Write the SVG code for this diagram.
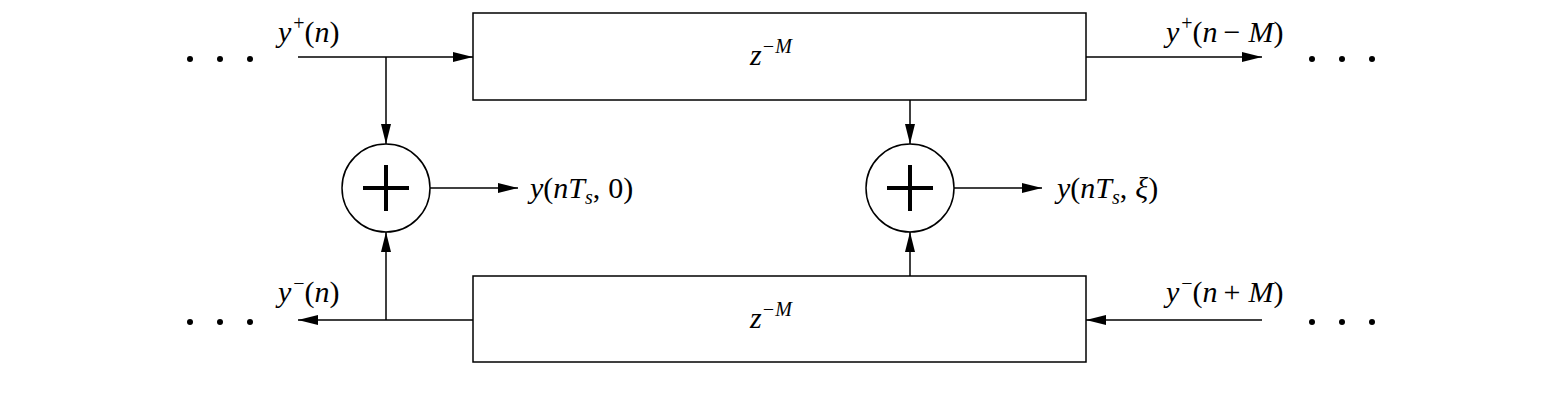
<svg xmlns="http://www.w3.org/2000/svg" width="1564" height="401" viewBox="0 0 1564 401">
<style>
.l{stroke:#000;stroke-width:1.5;fill:none}
.t{font-family:"Liberation Serif",serif;font-style:italic;font-size:30px}
.u{font-style:normal}
.s{font-size:20px}
</style>
<defs><marker id="a" markerWidth="20" markerHeight="10" refX="20" refY="5" orient="auto" markerUnits="userSpaceOnUse"><path d="M0,0L20,5L0,10z"/></marker></defs>
<rect width="1564" height="401" fill="#fff"/>
<g id="delayTop"><rect class="l" x="473" y="13" width="613" height="87"/><text class="t" x="750" y="65">z<tspan class="s" dy="-12">−M</tspan></text></g>
<g id="delayBottom"><rect class="l" x="473" y="276" width="613" height="86"/><text class="t" x="750" y="328">z<tspan class="s" dy="-12">−M</tspan></text></g>
<g id="sum1"><circle class="l" cx="386" cy="188" r="44"/><path d="M363,188H409M386,165V211" stroke="#000" stroke-width="4"/></g>
<g id="sum2"><circle class="l" cx="910" cy="188" r="44"/><path d="M887,188H933M910,165V211" stroke="#000" stroke-width="4"/></g>
<g id="connectors">
<path class="l" d="M298,57H473" marker-end="url(#a)"/>
<path class="l" d="M386,57V144" marker-end="url(#a)"/>
<path class="l" d="M386,320V232" marker-end="url(#a)"/>
<path class="l" d="M473,320H298" marker-end="url(#a)"/>
<path class="l" d="M910,100V144" marker-end="url(#a)"/>
<path class="l" d="M910,276V232" marker-end="url(#a)"/>
<path class="l" d="M430,188H518" marker-end="url(#a)"/>
<path class="l" d="M954,188H1042" marker-end="url(#a)"/>
<path class="l" d="M1086,57H1262" marker-end="url(#a)"/>
<path class="l" d="M1262,320H1086" marker-end="url(#a)"/>
</g>
<g id="labels">
<text class="t" x="278" y="42">y<tspan class="s u" dx="2" dy="-12">+</tspan><tspan class="u" dy="12">(</tspan>n<tspan class="u">)</tspan></text>
<text class="t" x="278" y="302">y<tspan class="s u" dx="2" dy="-12">−</tspan><tspan class="u" dy="12">(</tspan>n<tspan class="u">)</tspan></text>
<text class="t" x="1166" y="42">y<tspan class="s u" dx="2" dy="-12">+</tspan><tspan class="u" dy="12">(</tspan>n<tspan class="u" dx="6">−</tspan><tspan dx="8">M</tspan><tspan class="u">)</tspan></text>
<text class="t" x="1166" y="302">y<tspan class="s u" dx="2" dy="-12">−</tspan><tspan class="u" dy="12">(</tspan>n<tspan class="u" dx="6">+</tspan><tspan dx="8">M</tspan><tspan class="u">)</tspan></text>
<text class="t" x="530" y="198">y<tspan class="u">(</tspan>nT<tspan class="s" dy="6">s</tspan><tspan class="u" dy="-6">,</tspan><tspan class="u" dx="8">0)</tspan></text>
<text class="t" x="1057" y="198">y<tspan class="u">(</tspan>nT<tspan class="s" dy="6">s</tspan><tspan class="u" dy="-6">,</tspan><tspan dx="8">ξ</tspan><tspan class="u">)</tspan></text>
<g fill="#000"><circle cx="190" cy="59" r="3"/><circle cx="220" cy="59" r="3"/><circle cx="250" cy="59" r="3"/>
<circle cx="190" cy="322" r="3"/><circle cx="220" cy="322" r="3"/><circle cx="250" cy="322" r="3"/>
<circle cx="1312" cy="59" r="3"/><circle cx="1342" cy="59" r="3"/><circle cx="1372" cy="59" r="3"/>
<circle cx="1312" cy="322" r="3"/><circle cx="1342" cy="322" r="3"/><circle cx="1372" cy="322" r="3"/></g>
</g>
</svg>
